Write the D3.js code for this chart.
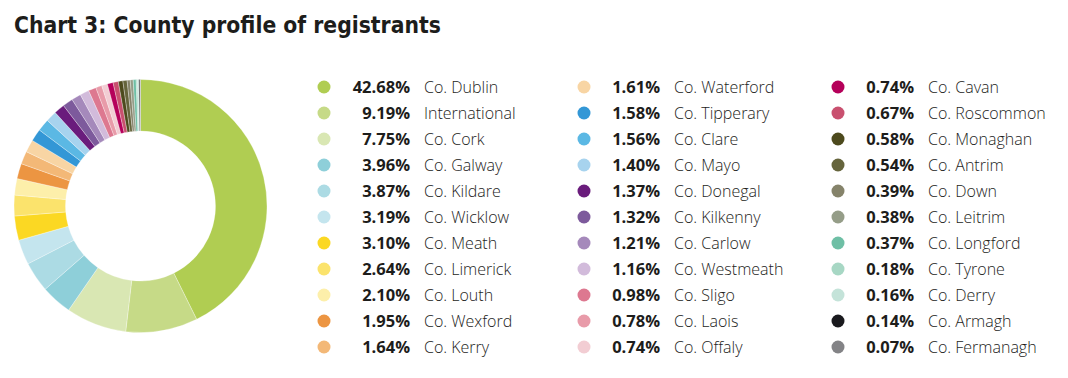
<!DOCTYPE html>
<html>
<head>
  <meta charset="utf-8">
  <title>County profile of registrants</title>
  <script src="https://d3js.org/d3.v7.min.js"></script>
  <style>
    body { margin: 0; background: #fff; }
    svg { display: block; }
  </style>
</head>
<body>
  <div id="chart"></div>
  <script>
    // counties and share of registrants (%)
    var counties = ["Co. Dublin", "International", "Co. Cork", "Co. Galway", "Co. Kildare", "Co. Wicklow",
      "Co. Meath", "Co. Limerick", "Co. Louth", "Co. Wexford", "Co. Kerry",
      "Co. Waterford", "Co. Tipperary", "Co. Clare", "Co. Mayo", "Co. Donegal", "Co. Kilkenny",
      "Co. Carlow", "Co. Westmeath", "Co. Sligo", "Co. Laois", "Co. Offaly",
      "Co. Cavan", "Co. Roscommon", "Co. Monaghan", "Co. Antrim", "Co. Down", "Co. Leitrim",
      "Co. Longford", "Co. Tyrone", "Co. Derry", "Co. Armagh", "Co. Fermanagh"];
    var shares = [42.68, 9.19, 7.75, 3.96, 3.87, 3.19, 3.10, 2.64, 2.10, 1.95, 1.64,
      1.61, 1.58, 1.56, 1.40, 1.37, 1.32, 1.21, 1.16, 0.98, 0.78, 0.74,
      0.74, 0.67, 0.58, 0.54, 0.39, 0.38, 0.37, 0.18, 0.16, 0.14, 0.07];
    var colours = ["#b0cd52", "#c6da87", "#d9e7b3", "#8ecfd9", "#acdbe4", "#c4e5ee",
      "#fbd823", "#fbe36c", "#fdefaa", "#ec9542", "#f3b877",
      "#f8d5a4", "#3397d6", "#5bb8e4", "#a7d3ee", "#6a1c7c", "#7d5a9c",
      "#a589bb", "#d2bbdb", "#dd7890", "#e89ba9", "#f2cdd3",
      "#b5005a", "#c9506f", "#4d4a1d", "#65643c", "#85836a", "#959d88",
      "#6ebfa5", "#a7d7c4", "#c4e3d9", "#1a1a1e", "#838386"];
    var title = "Chart 3: County profile of registrants";

    var W = 1068, H = 378;
    var svg = d3.select("#chart").append("svg")
      .attr("width", W)
      .attr("height", H);

    var titleText = svg.append("text")
      .attr("x", 14)
      .attr("y", 33)
      .style("font-family", "'DejaVu Sans Condensed', 'DejaVu Sans', sans-serif")
      .style("font-weight", "bold")
      .style("font-size", "20px")
      .style("fill", "#1d1d1b")
      .text(title);
    // fit to the width of the original heading
    var tw = titleText.node().getComputedTextLength();
    titleText.style("font-size", (20 * 427 / tw) + "px");

    var data = counties.map(function(c, i) { return {name: c, value: shares[i], colour: colours[i]}; });

    var pie = d3.pie().sort(null).value(function(d) { return d.value; });
    var arc = d3.arc().innerRadius(75).outerRadius(126.5);

    svg.append("g")
      .attr("transform", "translate(140.5,206)")
      .selectAll("path")
      .data(pie(data))
      .enter().append("path")
        .attr("d", arc)
        .attr("fill", function(d) { return d.data.colour; })
        .attr("stroke", "#fff")
        .attr("stroke-width", 0.3);

    // legend, three columns of 11 rows
    var cols = [{dot: 324, pct: 410, name: 424}, {dot: 584, pct: 660, name: 674}, {dot: 838, pct: 914, name: 928}];
    var row = d3.scaleLinear().domain([0, 10]).range([87, 347]);

    var items = svg.append("g").selectAll("g")
      .data(data)
      .enter().append("g")
        .attr("transform", function(d, i) { return "translate(0," + row(i % 11) + ")"; });

    items.append("circle")
      .attr("cx", function(d, i) { return cols[Math.floor(i / 11)].dot; })
      .attr("r", 6.5)
      .attr("fill", function(d) { return d.colour; });

    items.append("text")
      .attr("x", function(d, i) { return cols[Math.floor(i / 11)].pct; })
      .attr("dy", "0.36em")
      .attr("text-anchor", "end")
      .style("font-family", "'Open Sans', sans-serif")
      .style("font-weight", "bold")
      .style("font-size", "16.5px")
      .style("fill", "#1d1d1b")
      .text(function(d) { return d.value.toFixed(2) + "%"; });

    items.append("text")
      .attr("x", function(d, i) { return cols[Math.floor(i / 11)].name; })
      .attr("dy", "0.36em")
      .style("font-family", "'Open Sans', sans-serif")
      .style("font-weight", "300")
      .style("font-size", "16px")
      .style("fill", "#1d1d1b")
      .text(function(d) { return d.name; });
  </script>
</body>
</html>
